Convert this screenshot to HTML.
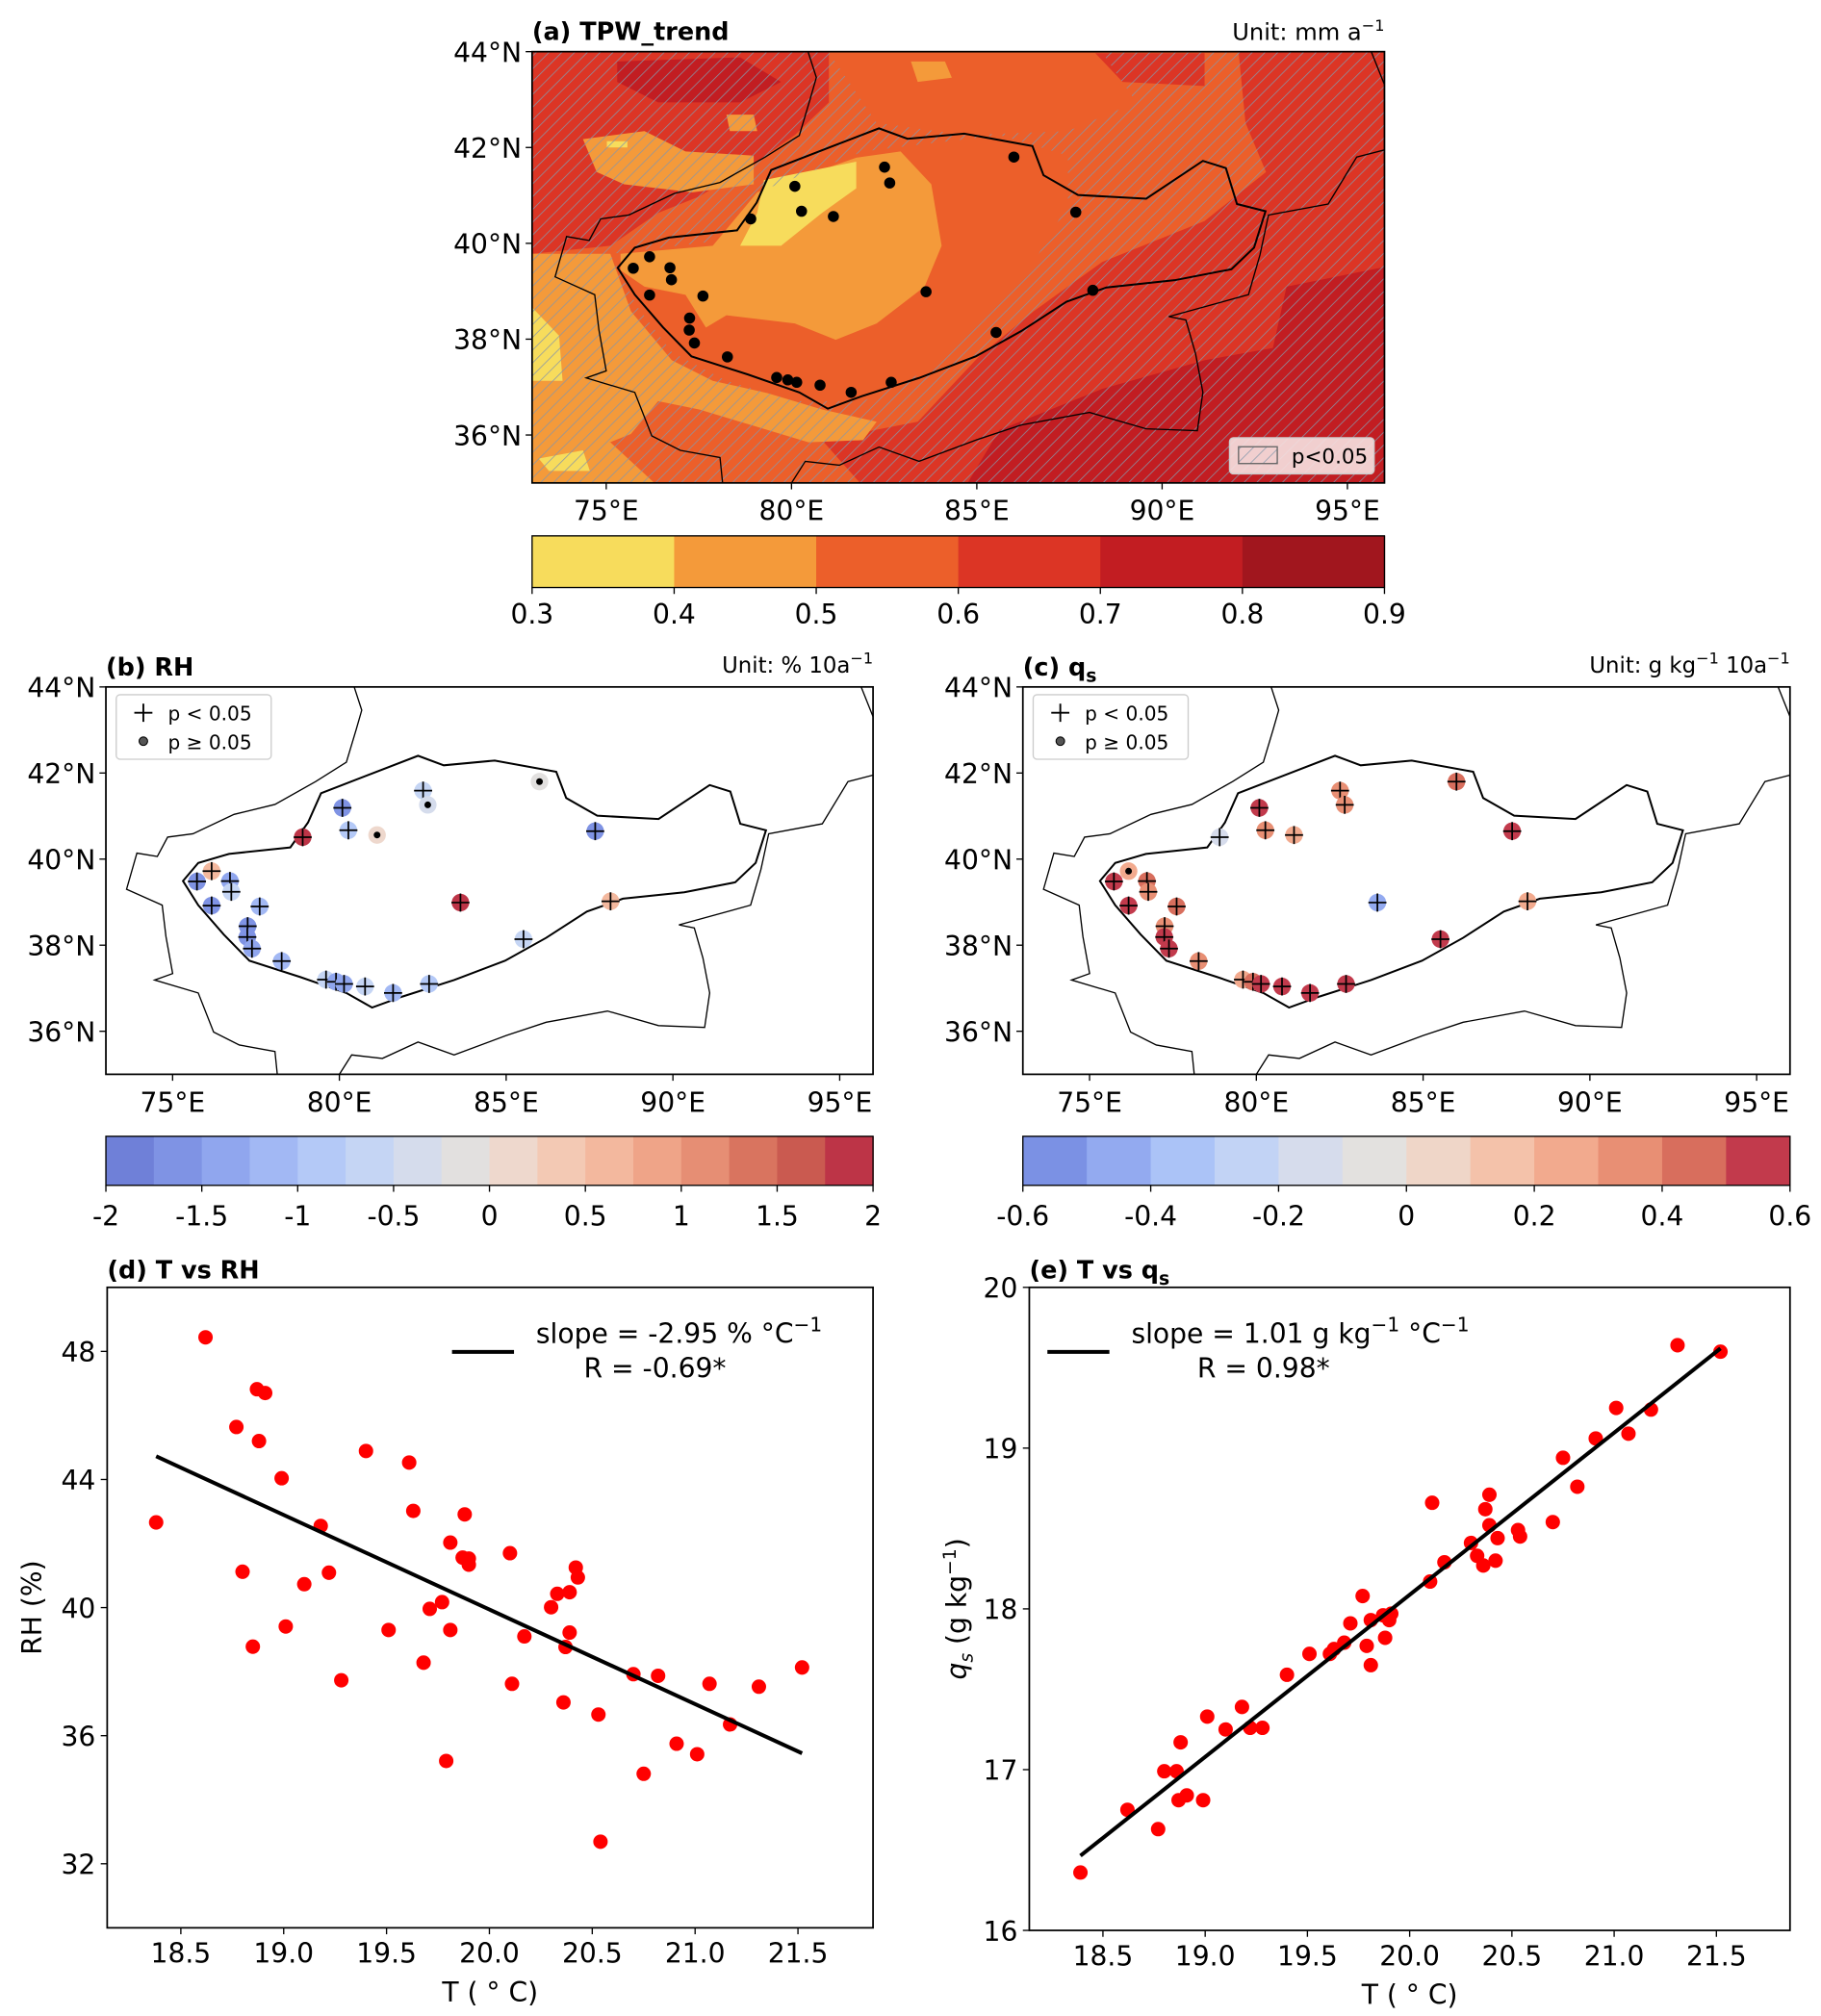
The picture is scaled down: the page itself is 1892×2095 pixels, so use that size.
<!DOCTYPE html>
<html><head><meta charset="utf-8"><style>
html,body{margin:0;padding:0;background:#fff;}
svg{display:block;font-family:"DejaVu Sans","Liberation Sans",sans-serif;}
</style></head><body>
<svg id="fig" xmlns="http://www.w3.org/2000/svg" width="1892" height="2095" viewBox="0 0 1410 1561.3" preserveAspectRatio="none">
<defs>
<pattern id="hatch" patternUnits="userSpaceOnUse" width="7" height="7" patternTransform="rotate(45)"><line x1="0" y1="0" x2="0" y2="7" stroke="#8796a8" stroke-width="1.1"/></pattern>
<clipPath id="clipA"><rect x="412" y="40" width="660" height="334"/></clipPath>
<clipPath id="clipB"><rect x="82" y="532" width="594" height="300"/></clipPath>
<clipPath id="clipC"><rect x="792" y="532" width="594" height="300"/></clipPath>
</defs>
<g id="layer"></g>
</svg>
<script>
// ---------- DATA ----------
const stationLon=[75.73,76.17,76.72,76.76,76.17,77.61,77.25,77.24,77.38,78.27,79.6,79.9,80.14,80.77,81.61,82.69,78.9,80.09,80.27,81.13,82.51,82.65,86.0,87.67,83.63,88.13,85.52];
const stationLat=[39.48,39.72,39.49,39.24,38.92,38.9,38.44,38.19,37.92,37.63,37.2,37.15,37.1,37.04,36.89,37.1,40.51,41.19,40.67,40.56,41.59,41.26,41.8,40.65,38.99,39.02,38.14];
const rhTrend=[-1.6,0.6,-1.3,-0.7,-1.6,-1.1,-1.6,-1.6,-1.3,-1.2,-0.7,-1.3,-1.4,-0.7,-1.2,-0.8,1.9,-1.6,-0.8,0.2,-0.6,-0.4,-0.1,-1.6,1.9,0.7,-0.6];
const rhSig=[1,1,1,1,1,1,1,1,1,1,1,1,1,1,1,1,1,1,1,0,1,0,0,1,1,1,1];
const qsTrend=[0.55,0.25,0.4,0.35,0.55,0.4,0.35,0.5,0.55,0.35,0.25,0.4,0.5,0.5,0.55,0.5,-0.15,0.55,0.35,0.25,0.35,0.35,0.4,0.55,-0.45,0.25,0.55];
const qsSig=[1,0,1,1,1,1,1,1,1,1,1,1,1,1,1,1,1,1,1,1,1,1,1,1,1,1,1];
const tpwLevels=[0.3,0.4,0.5,0.6,0.7,0.8,0.9];
const tpwColors=["#f7dc5c","#f49a3a","#ec5f2a","#dc3525","#c21d22","#a1161e"];
const rhLevels=[-2,-1.75,-1.5,-1.25,-1,-0.75,-0.5,-0.25,0,0.25,0.5,0.75,1,1.25,1.5,1.75,2];
const rhColors=["#6f80d8","#7f93e4","#90a6ee","#a2b8f4","#b4c9f7","#c5d5f4","#d5dcec","#e2e0df","#eed8cd","#f3c9b4","#f3b89e","#efa488","#e68e74","#d9745f","#ca5a50","#bd3447"];
const rhTicks=[-2,-1.5,-1,-0.5,0,0.5,1,1.5,2];
const qsLevels=[-0.6,-0.5,-0.4,-0.3,-0.2,-0.1,0,0.1,0.2,0.3,0.4,0.5,0.6];
const qsColors=["#7b91e4","#93aaf0","#abc3f7","#c2d3f5","#d6dcec","#e3e1df","#efd6c8","#f4c2aa","#f2aa8e","#e88f74","#d86e5d","#c23a4c"];
const qsTicks=[-0.6,-0.4,-0.2,0,0.2,0.4,0.6];
const tD=[18.62,18.38,18.87,18.91,18.77,18.88,18.99,18.80,18.85,19.01,19.10,19.18,19.22,19.28,19.40,19.51,19.61,19.63,19.68,19.71,19.77,19.79,19.81,19.81,19.88,19.87,19.90,19.90,20.10,20.11,20.17,20.30,20.33,20.39,20.42,20.43,20.39,20.37,20.36,20.53,20.54,20.70,20.75,20.82,20.91,21.01,21.07,21.17,21.31,21.52];
const rhD=[48.44,42.66,46.82,46.70,45.64,45.20,44.04,41.12,38.78,39.41,40.73,42.55,41.09,37.73,44.89,39.30,44.53,43.02,38.28,39.96,40.17,35.21,42.03,39.30,42.91,41.56,41.53,41.34,41.70,37.62,39.10,40.01,40.43,40.48,41.25,40.94,39.22,38.77,37.04,36.66,32.69,37.92,34.81,37.87,35.75,35.42,37.62,36.35,37.53,38.13];
const tE=[18.39,18.62,18.77,18.80,18.86,18.88,18.87,18.91,18.99,19.01,19.10,19.18,19.22,19.28,19.40,19.51,19.61,19.63,19.68,19.71,19.77,19.79,19.81,19.81,19.87,19.88,19.90,19.91,20.10,20.11,20.17,20.30,20.33,20.36,20.37,20.39,20.39,20.42,20.43,20.53,20.54,20.70,20.75,20.82,20.91,21.01,21.07,21.18,21.31,21.52];
const qsE=[16.36,16.75,16.63,16.99,16.99,17.17,16.81,16.84,16.81,17.33,17.25,17.39,17.26,17.26,17.59,17.72,17.72,17.75,17.79,17.91,18.08,17.77,17.65,17.93,17.96,17.82,17.93,17.97,18.17,18.66,18.29,18.41,18.33,18.27,18.62,18.71,18.52,18.30,18.44,18.49,18.45,18.54,18.94,18.76,19.06,19.25,19.09,19.24,19.64,19.60];
const xTicksT=[18.5,19.0,19.5,20.0,20.5,21.0,21.5];
const yTicksRH=[32,36,40,44,48];
const yTicksQS=[16,17,18,19,20];
const lonTicks=[75,80,85,90,95];
const latTicksA=[36,38,40,42,44];
const latTicksB=[36,38,40,42,44];

const basin=[[75.31,39.49],[75.77,39.91],[76.69,40.12],[78.53,40.27],[79.06,40.85],[79.45,41.53],[80.98,41.99],[82.36,42.4],[83.13,42.18],[84.66,42.29],[86.5,42.03],[86.8,41.42],[87.73,41.01],[89.57,40.93],[91.1,41.72],[91.72,41.57],[92.02,40.82],[92.79,40.67],[92.48,39.91],[91.87,39.46],[90.34,39.23],[88.5,39.08],[87.42,38.78],[86.2,38.17],[84.97,37.64],[83.44,37.19],[81.9,36.81],[80.98,36.55],[80.21,36.89],[78.83,37.26],[77.3,37.64],[76.53,38.25],[75.77,38.93],[75.31,39.49]];
const borderA=[[80.37,44.18],[80.67,43.46],[80.5,43.0],[80.21,42.25],[79.29,41.8],[78.07,41.27],[76.84,41.04],[75.61,40.59],[74.85,40.51],[74.54,40.06],[73.93,40.14],[73.62,39.3],[74.69,38.93],[74.8,38.2],[75.0,37.34],[74.46,37.19],[75.77,36.89],[76.23,35.98],[77.0,35.68],[78.07,35.53],[78.14,35.0]];
const borderB=[[80.0,35.0],[80.37,35.45],[81.29,35.37],[82.36,35.75],[83.44,35.45],[85.0,35.9],[86.2,36.21],[88.04,36.47],[89.57,36.13],[90.95,36.09],[91.1,36.89],[90.9,37.7],[90.64,38.4],[90.18,38.47],[92.33,38.93],[92.64,39.76],[92.87,40.59],[94.48,40.82],[95.25,41.8],[96.0,41.95]];
const borderC=[[95.55,44.18],[96.0,43.31]];

// ---------- HELPERS ----------
const NS="http://www.w3.org/2000/svg";
const layer=document.getElementById('layer');
function mk(tag,attrs,parent){const e=document.createElementNS(NS,tag);for(const k in attrs)e.setAttribute(k,attrs[k]);(parent||layer).appendChild(e);return e;}
function txt(x,y,s,size,anchor,parent,weight){const t=mk('text',{x:x,y:y,'font-size':size,'text-anchor':anchor||'start','fill':'#000'},parent);if(weight)t.setAttribute('font-weight',weight);t.textContent=s;return t;}
function colorFor(v,levels,cols){for(let i=0;i<cols.length;i++){if(v<levels[i+1])return cols[i];}return cols[cols.length-1];}

const A={x0:412,x1:1072,y0:40,y1:374,lon0:73,lon1:96,lat0:35,lat1:44};
const B={x0:82,x1:676,y0:532,y1:832,lon0:73,lon1:96,lat0:35,lat1:44};
const C={x0:792,x1:1386,y0:532,y1:832,lon0:73,lon1:96,lat0:35,lat1:44};
function proj(P,lon,lat){return [P.x0+(lon-P.lon0)/(P.lon1-P.lon0)*(P.x1-P.x0),P.y1-(lat-P.lat0)/(P.lat1-P.lat0)*(P.y1-P.y0)];}
function pathLL(P,pts,close){return pts.map((p,i)=>{const q=proj(P,p[0],p[1]);return (i?'L':'M')+q[0].toFixed(1)+' '+q[1].toFixed(1);}).join(' ')+(close?'Z':'');}

// ---------- PANEL A ----------
const gA=mk('g',{});


function z2(x,y){return [(400+x/1.409)/1.342,(y/2.35)/1.342];}
function zpath(pts){return pts.map((p,i)=>{const q=z2(p[0],p[1]);return (i?'L':'M')+q[0].toFixed(1)+' '+q[1].toFixed(1);}).join(' ')+'Z';}
const gAc=mk('g',{'clip-path':'url(#clipA)'},gA);
mk('rect',{x:412,y:40,width:660,height:334,fill:tpwColors[2]},gAc);
const contourPolys=[
 [3,[[215,128],[650,128],[650,250],[600,330],[540,400],[460,480],[400,520],[330,600],[215,620]]],
 [4,[[340,150],[520,140],[580,200],[520,250],[400,250],[340,200]]],
 [3,[[1250,128],[1470,128],[1470,1188],[700,1188],[640,1075],[780,1030],[870,870],[950,760],[1050,640],[1200,540],[1290,420],[1260,300]]],
 [3,[[1040,130],[1200,130],[1200,210],[1080,200]]],
 [4,[[1320,700],[1470,650],[1470,1188],[850,1188],[900,1050],[1050,950],[1200,880],[1300,850]]],
 [1,[[345,620],[480,600],[545,470],[690,385],[755,370],[800,450],[815,600],[790,700],[720,790],[660,830],[600,790],[500,770],[470,800],[440,720],[380,700],[345,660]]],
 [1,[[215,620],[330,620],[360,760],[420,880],[480,930],[560,960],[640,1000],[720,1030],[700,1075],[620,1080],[540,1040],[460,1000],[400,980],[360,1060],[300,1100],[215,1100]]],
 [1,[[215,1100],[330,1080],[400,1188],[215,1188]]],
 [1,[[290,340],[380,320],[440,370],[540,380],[540,450],[450,470],[350,450],[310,420]]],
 [1,[[770,150],[820,150],[830,190],[780,200]]],
 [1,[[500,280],[540,280],[545,320],[505,320]]],
 [0,[[555,440],[690,395],[690,460],[640,520],[580,600],[520,600],[545,520]]],
 [0,[[215,750],[255,820],[260,930],[215,930]]],
 [0,[[225,1120],[290,1100],[300,1150],[240,1150]]],
 [0,[[325,345],[355,345],[355,360],[325,360]]]
];
contourPolys.forEach(cp=>{const p=mk('path',{d:zpath(cp[1]),fill:tpwColors[cp[0]]},gAc);

});
const hatchD='M412 40 L1072 40 L1072 374 L412 374 Z '+zpath([[330,620],[480,590],[560,460],[700,370],[900,330],[1000,380],[1000,500],[950,640],[880,760],[800,900],[700,980],[600,980],[500,930],[420,860],[370,750]])+' '+zpath([[650,128],[1050,128],[1100,250],[1000,320],[850,330],[720,300]]);
const hp=mk('path',{d:hatchD,fill:'url(#hatch)','fill-rule':'evenodd'},gAc);


[borderA,borderB,borderC].forEach(b=>mk('path',{d:pathLL(A,b,false),fill:'none',stroke:'#000','stroke-width':1},gAc));
mk('path',{d:pathLL(A,basin,true),fill:'none',stroke:'#000','stroke-width':1.5},gAc);
stationLon.forEach((lon,i)=>{const q=proj(A,lon,stationLat[i]);const c=mk('circle',{cx:q[0],cy:q[1],r:4.3,fill:'#000'},gAc);

});
mk('rect',{x:412,y:40,width:660,height:334,fill:'none',stroke:'#000','stroke-width':1.3},gA);
const lgA=mk('g',{},gA);


mk('rect',{x:952,y:339,width:112,height:28,rx:3,fill:'#f5dede','fill-opacity':0.92,stroke:'#ccc'},lgA);
mk('rect',{x:959,y:346,width:30,height:13,fill:'url(#hatch)',stroke:'#666','stroke-width':1},lgA);
txt(1000,359,'p<0.05',16,'start',lgA);
function mapAxes(P,g,latT,lonLabY,latLabX){
 latT.forEach(l=>{const q=proj(P,P.lon0,l);mk('line',{x1:P.x0-5,y1:q[1],x2:P.x0,y2:q[1],stroke:'#000'},g);
  const t=txt(latLabX,q[1]+8,l+'°N',21,'end',g);
  
  });
 lonTicks.forEach(l=>{const q=proj(P,l,P.lat0);mk('line',{x1:q[0],y1:P.y1,x2:q[0],y2:P.y1+5,stroke:'#000'},g);
  const t=txt(q[0],lonLabY,l+'°E',21,'middle',g);
  
  });
}
mapAxes(A,gA,latTicksA,403,404);
const tA=txt(412,31,'(a) TPW_trend',19,'start',gA,'bold');


const uA=mk('text',{x:1072,y:31,'font-size':18,'text-anchor':'end'},gA);


uA.innerHTML='Unit: mm a<tspan dy="-7" font-size="12">−1</tspan>';

function colorbar(x0,x1,y0,y1,levels,cols,ticks,g,labY,fmt){
 const w=(x1-x0)/cols.length;
 cols.forEach((c,i)=>{const r=mk('rect',{x:x0+i*w,y:y0,width:w+0.5,height:y1-y0,fill:c},g);
  
  });
 mk('rect',{x:x0,y:y0,width:x1-x0,height:y1-y0,fill:'none',stroke:'#000','stroke-width':1},g);
 const lo=levels[0],hi=levels[levels.length-1];
 ticks.forEach(t=>{const x=x0+(t-lo)/(hi-lo)*(x1-x0);mk('line',{x1:x,y1:y1,x2:x,y2:y1+5,stroke:'#000'},g);
  const l=txt(x,labY,fmt(t),21,'middle',g);
  
  });
}
const cbA=mk('g',{});


colorbar(412,1072,415,455,tpwLevels,tpwColors,tpwLevels,cbA,483,t=>t.toFixed(1));

// ---------- PANELS B & C ----------
function stationPanel(P,clipId,vals,sig,levels,cols,name){
 const g=mk('g',{});
 
 
 const gc=mk('g',{'clip-path':'url(#'+clipId+')'},g);
 [borderA,borderB,borderC].forEach(b=>mk('path',{d:pathLL(P,b,false),fill:'none',stroke:'#000','stroke-width':1},gc));
 mk('path',{d:pathLL(P,basin,true),fill:'none',stroke:'#000','stroke-width':1.5},gc);
 stationLon.forEach((lon,i)=>{const q=proj(P,lon,stationLat[i]);
  const c=mk('circle',{cx:q[0],cy:q[1],r:6.8,fill:colorFor(vals[i],levels,cols)},gc);
  
  
  if(sig[i]){mk('path',{d:`M${q[0]-7} ${q[1]}H${q[0]+7}M${q[0]} ${q[1]-7}V${q[1]+7}`,stroke:'#000','stroke-width':1.3},gc);}
  else{mk('circle',{cx:q[0],cy:q[1],r:2.6,fill:'#000'},gc);}
 });
 mk('rect',{x:P.x0,y:P.y0,width:P.x1-P.x0,height:P.y1-P.y0,fill:'none',stroke:'#000','stroke-width':1.3},g);
 const lg=mk('g',{},g);
 
 
 mk('rect',{x:P.x0+8,y:P.y0+6,width:120,height:50,rx:3,fill:'#fff',stroke:'#ccc'},lg);
 mk('path',{d:`M${P.x0+22} ${P.y0+20}H${P.x0+36}M${P.x0+29} ${P.y0+13}V${P.y0+27}`,stroke:'#000','stroke-width':1.4},lg);
 mk('circle',{cx:P.x0+29,cy:P.y0+42,r:3.3,fill:'#555',stroke:'#000','stroke-width':0.8},lg);
 txt(P.x0+48,P.y0+26,'p < 0.05',15,'start',lg);
 txt(P.x0+48,P.y0+48,'p ≥ 0.05',15,'start',lg);
 mapAxes(P,g,latTicksB,861,P.x0-8);
 return g;
}
stationPanel(B,'clipB',rhTrend,rhSig,rhLevels,rhColors,'panel-b-rh-map');
stationPanel(C,'clipC',qsTrend,qsSig,qsLevels,qsColors,'panel-c-qs-map');
const tB=txt(82,523,'(b) RH',19,'start',null,'bold');


const uB=mk('text',{x:676,y:521,'font-size':17,'text-anchor':'end'});


uB.innerHTML='Unit: % 10a<tspan dy="-7" font-size="12">−1</tspan>';
const tC=mk('text',{x:792,y:523,'font-size':19,'font-weight':'bold'});


tC.innerHTML='(c) q<tspan dy="5" font-size="14">s</tspan>';
const uC=mk('text',{x:1386,y:521,'font-size':17,'text-anchor':'end'});


uC.innerHTML='Unit: g kg<tspan dy="-7" font-size="12">−1</tspan><tspan dy="7"> 10a</tspan><tspan dy="-7" font-size="12">−1</tspan>';
const cbB=mk('g',{});


colorbar(82,676,880,918,rhLevels,rhColors,rhTicks,cbB,949,t=>String(t));
const cbC=mk('g',{});


colorbar(792,1386,880,918,qsLevels,qsColors,qsTicks,cbC,949,t=>String(t));

// ---------- SCATTER PANELS ----------
function fit(xs,ys){const n=xs.length;let mx=0,my=0;for(let i=0;i<n;i++){mx+=xs[i];my+=ys[i];}mx/=n;my/=n;let sxy=0,sxx=0;for(let i=0;i<n;i++){sxy+=(xs[i]-mx)*(ys[i]-my);sxx+=(xs[i]-mx)**2;}const b=sxy/sxx;return [b,my-b*mx];}
function scatterPanel(o){
 const g=mk('g',{});
 
 
 const sx=v=>o.x0+(v-o.xmin)/(o.xmax-o.xmin)*(o.x1-o.x0);
 const sy=v=>o.y1-(v-o.ymin)/(o.ymax-o.ymin)*(o.y1-o.y0);
 o.xs.forEach((v,i)=>{const c=mk('circle',{cx:sx(v),cy:sy(o.ys[i]),r:5.6,fill:'#ff0000'},g);
  
  });
 const f=fit(o.xs,o.ys);const xa=Math.min(...o.xs),xb=Math.max(...o.xs);
 const ln=mk('line',{x1:sx(xa),y1:sy(f[1]+f[0]*xa),x2:sx(xb),y2:sy(f[1]+f[0]*xb),stroke:'#000','stroke-width':3},g);
 
 
 mk('rect',{x:o.x0,y:o.y0,width:o.x1-o.x0,height:o.y1-o.y0,fill:'none',stroke:'#000','stroke-width':1.3},g);
 o.xt.forEach(t=>{const x=sx(t);mk('line',{x1:x,y1:o.y1,x2:x,y2:o.y1+5,stroke:'#000'},g);
  const l=txt(x,o.y1+27,t.toFixed(1),21,'middle',g);
  
  });
 o.yt.forEach(t=>{const y=sy(t);mk('line',{x1:o.x0-5,y1:y,x2:o.x0,y2:y,stroke:'#000'},g);
  const l=txt(o.x0-9,y+8,String(t),21,'end',g);
  
  });
 const xl=txt((o.x0+o.x1)/2,o.y1+57,'T ( ° C)',21,'middle',g);
 
 
 return g;
}
scatterPanel({name:'panel-d-t-vs-rh',x0:83,x1:676,y0:997,y1:1493,xmin:18.142,xmax:21.865,ymin:30,ymax:50,xs:tD,ys:rhD,xt:xTicksT,yt:yTicksRH});
scatterPanel({name:'panel-e-t-vs-qs',x0:797,x1:1386,y0:997,y1:1495,xmin:18.14,xmax:21.86,ymin:16,ymax:20,xs:tE,ys:qsE,xt:xTicksT,yt:yTicksQS});
const tD_=txt(83,990,'(d) T vs RH',19,'start',null,'bold');


const tE_=mk('text',{x:797,y:990,'font-size':19,'font-weight':'bold'});


tE_.innerHTML='(e) T vs q<tspan dy="5" font-size="14">s</tspan>';
const yD=txt(0,0,'RH (%)',21,'middle');
yD.setAttribute('transform','translate(32,1245) rotate(-90)');


const yE=mk('text',{transform:'translate(748,1246) rotate(-90)','font-size':21,'text-anchor':'middle'});


yE.innerHTML='<tspan font-style="italic">q</tspan><tspan dy="5" font-size="14" font-style="italic">s</tspan><tspan dy="-5"> (g kg</tspan><tspan dy="-8" font-size="14">−1</tspan><tspan dy="8">)</tspan>';
const lgD=mk('g',{});


mk('line',{x1:350,y1:1047,x2:398,y2:1047,stroke:'#000','stroke-width':3},lgD);
mk('text',{x:415,y:1040,'font-size':21},lgD).innerHTML='slope = -2.95 % °C<tspan dy="-9" font-size="15">−1</tspan>';
txt(452,1067,'R = -0.69*',21,'start',lgD);
const lgE=mk('g',{});


mk('line',{x1:811,y1:1047,x2:859,y2:1047,stroke:'#000','stroke-width':3},lgE);
mk('text',{x:876,y:1040,'font-size':21},lgE).innerHTML='slope = 1.01 g kg<tspan dy="-9" font-size="15">−1</tspan><tspan dy="9"> °C</tspan><tspan dy="-9" font-size="15">−1</tspan>';
txt(927,1067,'R = 0.98*',21,'start',lgE);
</script>
</body></html>
